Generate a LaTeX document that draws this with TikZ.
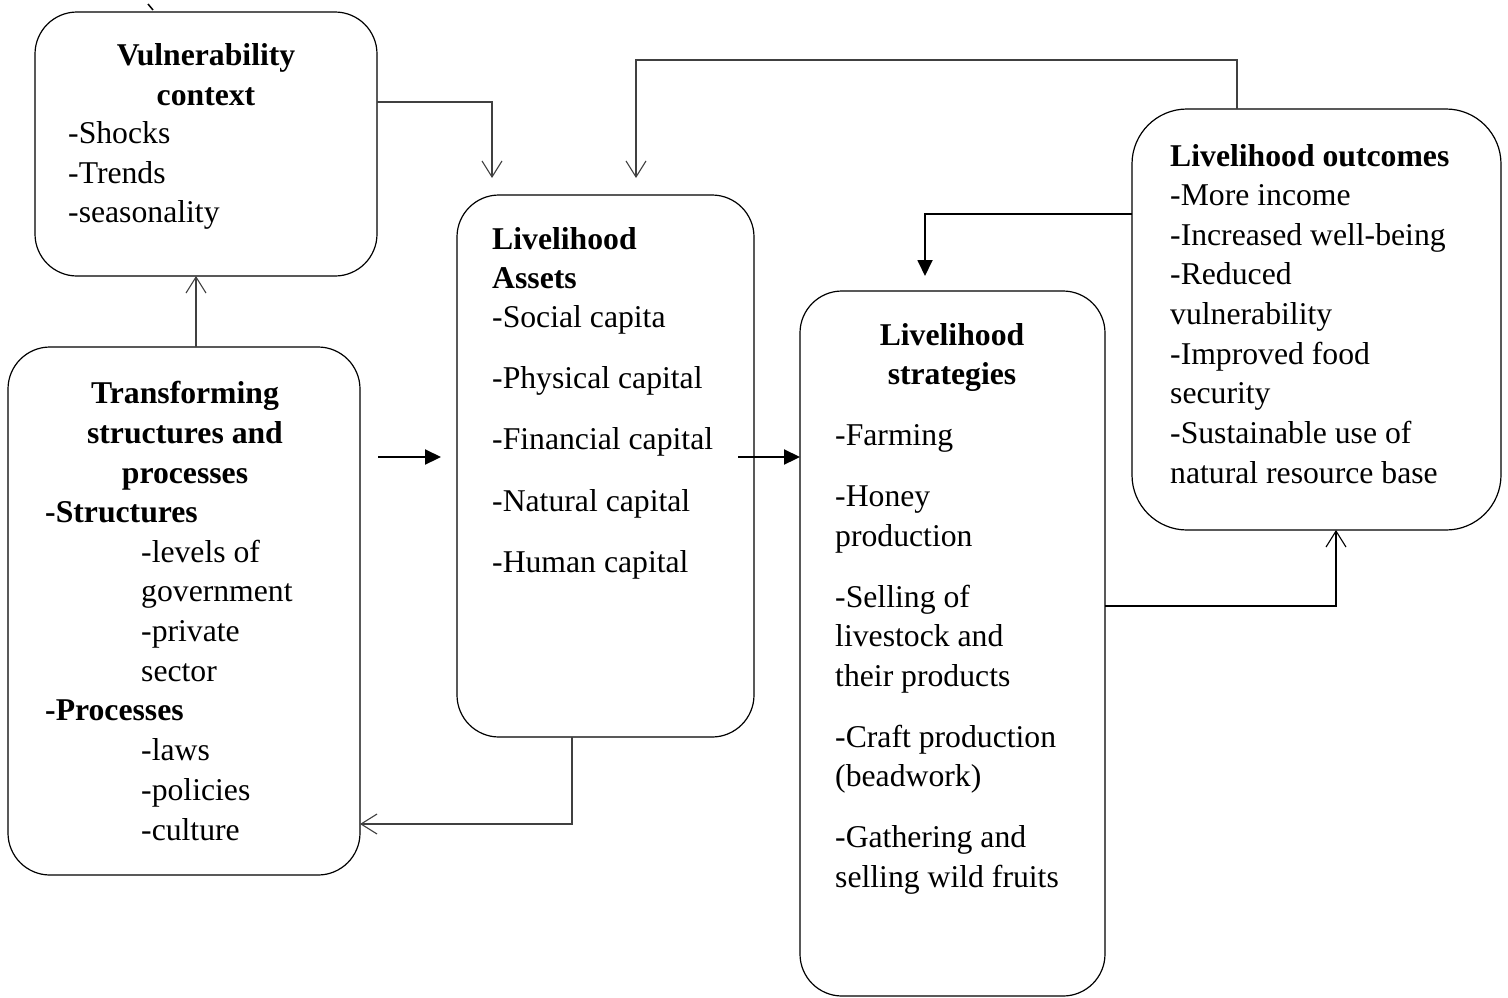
\documentclass[tikz,border=0pt]{standalone}
\usepackage{fontspec}
\setmainfont{Liberation Serif}
\usetikzlibrary{arrows.meta}
\newcommand\tline[4]{\node[txt,anchor=base west] (#1) at (#2,#3) {#4};}
\newcommand\ctline[4]{\node[txt,anchor=base] (#1) at (#2,#3) {#4};}
\begin{document}
\begin{tikzpicture}[x=1pt,y=-1pt,
  txt/.style={inner sep=0pt,font=\fontsize{31.7}{39.5}\selectfont},
  box/.style={draw=black,line width=1.2pt,rounded corners=42pt},
  open/.style={draw=black!75,line width=1.1pt,-{Straight Barb[length=16pt,width=20pt,line width=1.1pt]}},
  solid/.style={draw=black,line width=2.2pt,-{Triangle[length=16pt,width=15pt]}}]
\useasboundingbox (0,0) rectangle (1508,997);
% boxes
\draw[box] (35,12) rectangle (377,276);
\draw[box] (8,347) rectangle (360,875);
\draw[box] (457,195) rectangle (754,737);
\draw[box] (800,291) rectangle (1105,996);
\draw[box,rounded corners=55pt] (1132,109) rectangle (1501,530);
% vulnerability
\ctline{v1}{206}{65}{\textbf{Vulnerability}}
\ctline{v2}{206}{105}{\textbf{context}}
\tline{v3}{68}{143}{-Shocks}
\tline{v4}{68}{183}{-Trends}
\tline{v5}{68}{222}{-seasonality}
% transforming
\ctline{t1}{185}{403}{\textbf{Transforming}}
\ctline{t2}{185}{443}{\textbf{structures and}}
\ctline{t3}{185}{483}{\textbf{processes}}
\tline{t4}{45}{522}{\textbf{-Structures}}
\tline{t5}{141}{562}{-levels of}
\tline{t6}{141}{601}{government}
\tline{t7}{141}{641}{-private}
\tline{t8}{141}{681}{sector}
\tline{t9}{45}{720}{\textbf{-Processes}}
\tline{t10}{141}{760}{-laws}
\tline{t11}{141}{800}{-policies}
\tline{t12}{141}{840}{-culture}
% assets
\tline{a1}{492}{249}{\textbf{Livelihood}}
\tline{a2}{492}{288}{\textbf{Assets}}
\tline{a3}{492}{327}{-Social capita}
\tline{a4}{492}{388}{-Physical capital}
\tline{a5}{492}{449}{-Financial capital}
\tline{a6}{492}{511}{-Natural capital}
\tline{a7}{492}{572}{-Human capital}
% strategies
\ctline{s1}{952}{345}{\textbf{Livelihood}}
\ctline{s2}{952}{384}{\textbf{strategies}}
\tline{s3}{835}{445}{-Farming}
\tline{s4}{835}{506}{-Honey}
\tline{s5}{835}{546}{production}
\tline{s6}{835}{607}{-Selling of}
\tline{s7}{835}{646}{livestock and}
\tline{s8}{835}{686}{their products}
\tline{s9}{835}{747}{-Craft production}
\tline{s10}{835}{786}{(beadwork)}
\tline{s11}{835}{847}{-Gathering and}
\tline{s12}{835}{887}{selling wild fruits}
% outcomes
\tline{o1}{1170}{166}{\textbf{Livelihood outcomes}}
\tline{o2}{1170}{205}{-More income}
\tline{o3}{1170}{245}{-Increased well-being}
\tline{o4}{1170}{284}{-Reduced}
\tline{o5}{1170}{324}{vulnerability}
\tline{o6}{1170}{364}{-Improved food}
\tline{o7}{1170}{403}{security}
\tline{o8}{1170}{443}{-Sustainable use of}
\tline{o9}{1170}{483}{natural resource base}
% connector coordinates
\coordinate (vR) at (377,102);
\coordinate (aTopL) at (492,178);
\coordinate (oTop) at (1237,109);
\coordinate (aTopR) at (636,178);
\coordinate (tTop) at (196,347);
\coordinate (vBot) at (196,276);
\coordinate (f1s) at (378,457);
\coordinate (f1e) at (441,457);
\coordinate (f2s) at (738,457);
\coordinate (f2e) at (800,457);
\coordinate (aBot) at (572,737);
\coordinate (tR) at (360,824);
\coordinate (oL) at (1132,214);
\coordinate (sTop) at (925,276);
\coordinate (sR) at (1105,606);
\coordinate (oBot) at (1336,530);
\coordinate (m1) at (148,4);
\coordinate (m2) at (153,10);
% connectors
\draw[open] (vR) -| (aTopL);
\draw[open] (oTop) |- (636,60) -- (aTopR);
\draw[open] (tTop) -- (vBot);
\draw[solid] (f1s) -- (f1e);
\draw[solid] (f2s) -- (f2e);
\draw[open] (aBot) |- (tR);
\draw[solid,line width=1.8pt] (oL) -| (sTop);
\draw[open,draw=black,line width=1.6pt] (sR) -| (oBot);
\draw[line width=1.5pt] (m1) -- (m2);
\end{tikzpicture}
\end{document}
